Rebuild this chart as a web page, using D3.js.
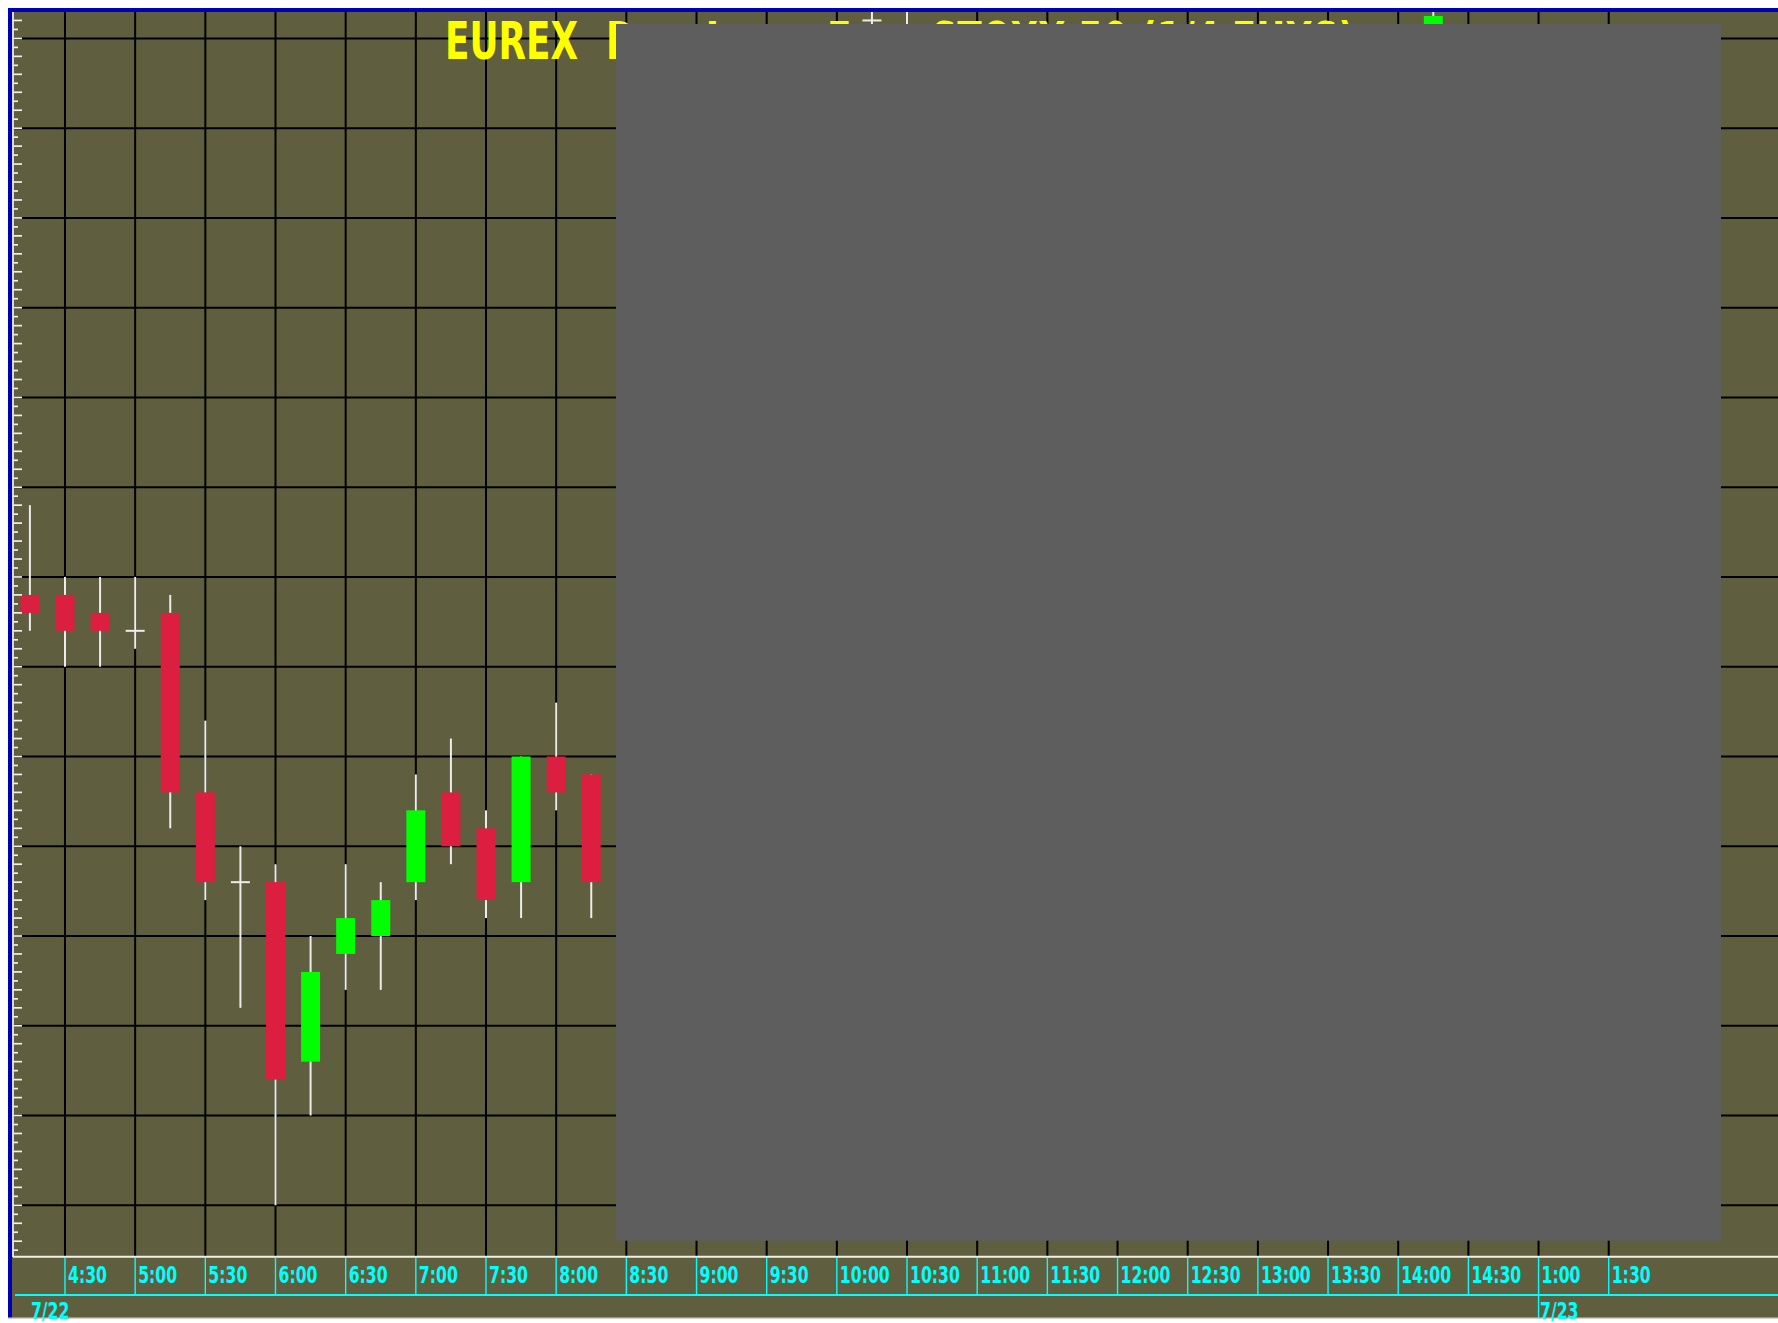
<!doctype html>
<html>
<head>
<meta charset="utf-8">
<title>EUREX 15 min</title>
<script src="https://cdnjs.cloudflare.com/ajax/libs/d3/7.8.5/d3.min.js"></script>
<style>
  body { margin: 0; background: #fff; }
  svg { display: block; }
  .lbl { font-family: "Liberation Sans Narrow", "DejaVu Sans Condensed", "Arial Narrow", sans-serif; font-weight: bold; }
</style>
</head>
<body>
<svg id="chart" width="1778" height="1323"></svg>
<script>
// 15 minute bars (only the ones that can be seen)
var barTimes = ['4:15', '4:30', '4:45', '5:00', '5:15', '5:30', '5:45', '6:00', '6:15', '6:30', '6:45', '7:00', '7:15', '7:30', '7:45', '8:00', '8:15', '10:15', '10:30', '14:15']
var opens = [3698, 3698, 3696, 3694, 3696, 3676, 3666, 3666, 3646, 3658, 3660, 3666, 3676, 3672, 3666, 3680, 3678, 3762, 3758, 3752]
var highs = [3708, 3700, 3700, 3700, 3698, 3684, 3670, 3668, 3660, 3668, 3666, 3678, 3682, 3674, 3680, 3686, 3678, 3764, 3764, 3764]
var lows = [3694, 3690, 3690, 3692, 3672, 3664, 3652, 3630, 3640, 3654, 3654, 3664, 3668, 3662, 3662, 3674, 3662, 3756, 3752, 3748]
var closes = [3696, 3694, 3694, 3694, 3676, 3666, 3666, 3644, 3656, 3662, 3664, 3674, 3670, 3664, 3680, 3676, 3666, 3762, 3755, 3762.5]

var timeLabels = ['4:30', '5:00', '5:30', '6:00', '6:30', '7:00', '7:30', '8:00', '8:30', '9:00', '9:30', '10:00', '10:30', '11:00', '11:30', '12:00', '12:30', '13:00', '13:30', '14:00', '14:30', '1:00', '1:30']
var dateLabels = ['7/22', '7/23']
var dateStarts = ['4:15', '1:00']
var titleHead = 'EUREX'
var titleRest = 'Dow Jones Euro STOXX 50 (1/4 EUXS)'

var W = 1778, H = 1323
var plot = { left: 13, top: 12, right: W, bottom: 1257 }
var svg = d3.select('#chart')

// every 15 minute slot on the time axis: day one 4:15..14:45, day two 1:00..2:30
var slots = []
for (var m = 4 * 60 + 15; m <= 14 * 60 + 45; m += 15) slots.push(Math.floor(m / 60) + ':' + d3.format('02')(m % 60))
for (var m2 = 60; m2 <= 150; m2 += 15) slots.push(Math.floor(m2 / 60) + ':' + d3.format('02')(m2 % 60))

var x = d3.scalePoint().domain(slots).range([29.9, 29.9 + 35.085 * (slots.length - 1)])
var y = d3.scaleLinear().domain([3630, 3760]).range([1205.3, 38.4])

var bars = barTimes.map(function (t, i) {
  return { t: t, o: opens[i], h: highs[i], l: lows[i], c: closes[i] }
})

// the chart font is a narrow bitmap face, squeeze whatever we got to the same width
function squeeze (sample, size, target) {
  var t = svg.append('text').attr('class', 'lbl').attr('font-size', size).text(sample)
  var w = t.node().getComputedTextLength()
  t.remove()
  return target / w
}
var axisScale = squeeze('4:30', 23, 39)
var titleScale = squeeze(titleHead, 52, 133)

// frame
svg.append('rect').attr('x', 8).attr('y', 8).attr('width', W - 8).attr('height', 1310).attr('fill', '#5f5f3f')
svg.append('rect').attr('x', 8).attr('y', 8).attr('width', W - 8).attr('height', 4).attr('fill', '#0000b4')
svg.append('rect').attr('x', 8).attr('y', 8).attr('width', 4).attr('height', 1310).attr('fill', '#0000b4')
svg.append('line').attr('x1', 8).attr('x2', W).attr('y1', 1318.3).attr('y2', 1318.3).attr('stroke', '#d4d0c8').attr('stroke-width', 1.6)

// grid
var gridPrices = d3.range(3630, 3761, 10)
svg.append('g').selectAll('line').data(gridPrices).join('line')
  .attr('x1', plot.left).attr('x2', plot.right)
  .attr('y1', function (d) { return y(d) }).attr('y2', function (d) { return y(d) })
  .attr('stroke', '#000').attr('stroke-width', 2)
svg.append('g').selectAll('line').data(timeLabels).join('line')
  .attr('x1', function (d) { return x(d) }).attr('x2', function (d) { return x(d) })
  .attr('y1', plot.top).attr('y2', plot.bottom)
  .attr('stroke', '#000').attr('stroke-width', 2)

// title
var title = svg.append('g')
title.append('text').attr('class', 'lbl')
  .attr('transform', 'translate(445,59.3) scale(' + titleScale + ',1)')
  .attr('font-size', 52).attr('fill', '#ffff00')
  .text(titleHead)
title.append('text').attr('class', 'lbl')
  .attr('transform', 'translate(606,59.3) scale(' + titleScale + ',1)')
  .attr('font-size', 52).attr('fill', '#ffff00')
  .text(titleRest)

// candles
svg.append('clipPath').attr('id', 'plotclip').append('rect')
  .attr('x', plot.left).attr('y', plot.top).attr('width', plot.right - plot.left).attr('height', plot.bottom - plot.top - 1)
var bodyW = 19
var cg = svg.append('g').attr('clip-path', 'url(#plotclip)')
cg.selectAll('line.wick').data(bars).join('line').attr('class', 'wick')
  .attr('x1', function (d) { return x(d.t) }).attr('x2', function (d) { return x(d.t) })
  .attr('y1', function (d) { return y(d.h) }).attr('y2', function (d) { return y(d.l) })
  .attr('stroke', '#ececec').attr('stroke-width', 2)
cg.selectAll('rect.body').data(bars.filter(function (d) { return d.o !== d.c })).join('rect').attr('class', 'body')
  .attr('x', function (d) { return x(d.t) - bodyW / 2 })
  .attr('y', function (d) { return y(Math.max(d.o, d.c)) })
  .attr('width', bodyW)
  .attr('height', function (d) { return Math.abs(y(d.o) - y(d.c)) })
  .attr('fill', function (d) { return d.c > d.o ? '#00ff00' : '#dc1e41' })
cg.selectAll('line.doji').data(bars.filter(function (d) { return d.o === d.c })).join('line').attr('class', 'doji')
  .attr('x1', function (d) { return x(d.t) - bodyW / 2 }).attr('x2', function (d) { return x(d.t) + bodyW / 2 })
  .attr('y1', function (d) { return y(d.c) }).attr('y2', function (d) { return y(d.c) })
  .attr('stroke', '#ececec').attr('stroke-width', 2)

// grey panel over the chart
svg.append('rect').attr('x', 616).attr('y', 24).attr('width', 1105).attr('height', 1216.7).attr('fill', '#5e5e5e')

// left price axis with minor ticks
var minor = d3.range(3625, 3763, 1)
svg.append('g').selectAll('line').data(minor).join('line')
  .attr('x1', plot.left).attr('x2', function (d) { return d % 2 === 0 ? 22 : 18 })
  .attr('y1', function (d) { return y(d) }).attr('y2', function (d) { return y(d) })
  .attr('stroke', '#f0f0f0').attr('stroke-width', 1.7)
svg.append('line').attr('x1', plot.left).attr('x2', plot.left).attr('y1', plot.top).attr('y2', plot.bottom)
  .attr('stroke', '#e8e8e8').attr('stroke-width', 1.8)

// time axis
svg.append('line').attr('x1', plot.left).attr('x2', W).attr('y1', 1256.8).attr('y2', 1256.8)
  .attr('stroke', '#f0f0e8').attr('stroke-width', 2)
svg.append('line').attr('x1', 15).attr('x2', W).attr('y1', 1295).attr('y2', 1295)
  .attr('stroke', '#00ffff').attr('stroke-width', 2)
var xt = svg.append('g').selectAll('g').data(timeLabels).join('g')
  .attr('transform', function (d) { return 'translate(' + x(d) + ',0)' })
xt.append('line').attr('y1', 1258).attr('y2', function (d) { return dateStarts.indexOf(d) >= 0 ? 1318 : 1295 })
  .attr('stroke', '#00ffff').attr('stroke-width', 1.4)
xt.append('text').attr('class', 'lbl')
  .attr('transform', 'translate(3,1283) scale(' + axisScale + ',1)')
  .attr('font-size', 23).attr('fill', '#00ffff').text(function (d) { return d })

svg.append('g').selectAll('text').data(dateLabels).join('text').attr('class', 'lbl')
  .attr('transform', function (d, i) { return 'translate(' + (x(dateStarts[i]) + (i === 0 ? 1 : 1.5)) + ',1318.5) scale(' + axisScale + ',1)' })
  .attr('font-size', 23).attr('fill', '#00ffff').text(function (d) { return d })
</script>
</body>
</html>
